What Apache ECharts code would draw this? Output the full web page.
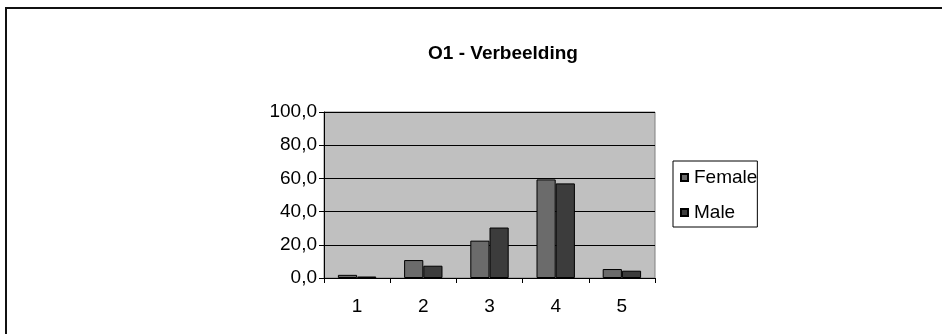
<!DOCTYPE html>
<html>
<head>
<meta charset="utf-8">
<script src="https://cdn.jsdelivr.net/npm/echarts@6/dist/echarts.min.js"></script>
<style>
  html, body { margin: 0; padding: 0; background: #ffffff; }
  #chart { width: 942px; height: 334px; }
</style>
</head>
<body>
<div id="chart"></div>
<script>
// Response shares (%) per answer category, by gender
const categories = ['1', '2', '3', '4', '5'];
const femaleValues = [1.9, 10.8, 22.5, 59.4, 5.4];
const maleValues = [0.9, 7.4, 30.4, 57.0, 4.4];
const seriesNames = ['Female', 'Male'];

const chart = echarts.init(document.getElementById('chart'), null, { renderer: 'canvas' });

const FONT = 'Liberation Sans, Arial, sans-serif';

chart.setOption({
  animation: false,
  backgroundColor: '#ffffff',
  title: {
    text: 'O1 - Verbeelding',
    left: 498,
    top: 39,
    textAlign: 'center',
    textStyle: { fontFamily: FONT, fontSize: 19, fontWeight: 'bold', color: '#000' }
  },
  graphic: [{
    type: 'rect',
    shape: { x: 6, y: 8, width: 1000, height: 400 },
    style: { fill: 'none', stroke: '#111', lineWidth: 2 },
    silent: true
  }],
  legend: {
    data: seriesNames,
    orient: 'vertical',
    left: 673,
    top: 161,
    itemWidth: 7,
    itemHeight: 7,
    itemGap: 16,
    icon: 'rect',
    padding: [7, 0, 5, 7],
    borderColor: '#000',
    borderWidth: 1,
    textStyle: { fontFamily: FONT, fontSize: 19, color: '#000', padding: [0, 0, 0, 1] }
  },
  grid: {
    left: 324,
    right: 287,
    top: 112,
    bottom: 56,
    show: true,
    backgroundColor: '#c0c0c0',
    borderColor: '#808080',
    borderWidth: 1
  },
  xAxis: {
    type: 'category',
    data: categories,
    axisLine: { lineStyle: { color: '#000', width: 1 } },
    axisTick: { show: true, length: 5, inside: false, lineStyle: { color: '#000' } },
    axisLabel: { fontFamily: FONT, fontSize: 19, color: '#000', margin: 19 }
  },
  yAxis: {
    type: 'value',
    min: 0,
    max: 100,
    interval: 20,
    axisLine: { show: true, lineStyle: { color: '#000', width: 1 } },
    axisTick: { show: true, length: 5, lineStyle: { color: '#000' } },
    splitLine: { show: true, lineStyle: { color: '#000', width: 1 } },
    axisLabel: {
      fontFamily: FONT, fontSize: 19, color: '#000', margin: 7,
      formatter: v => v.toFixed(1).replace('.', ',')
    }
  },
  series: [
    {
      name: seriesNames[0],
      type: 'bar',
      data: femaleValues,
      barGap: '0%',
      barCategoryGap: '42%',
      itemStyle: { color: '#6b6b6b', borderColor: '#000', borderWidth: 1 }
    },
    {
      name: seriesNames[1],
      type: 'bar',
      data: maleValues,
      itemStyle: { color: '#3c3c3c', borderColor: '#000', borderWidth: 1 }
    }
  ]
});
</script>
</body>
</html>
